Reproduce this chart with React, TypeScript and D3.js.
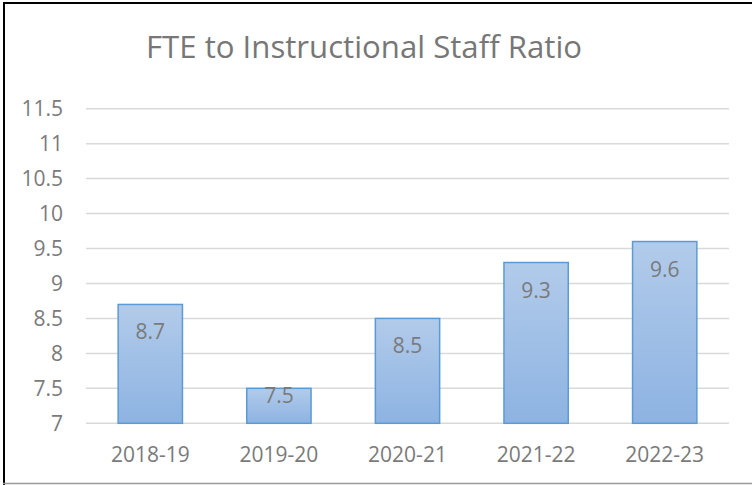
import React from "react";
import * as d3 from "d3";

const categories = ["2018-19", "2019-20", "2020-21", "2021-22", "2022-23"];
const values = [8.7, 7.5, 8.5, 9.3, 9.6];
const yTicks = [7, 7.5, 8, 8.5, 9, 9.5, 10, 10.5, 11, 11.5];
const title = "FTE to Instructional Staff Ratio";

const W = 752;
const H = 485;
const plot = { left: 86, right: 729, top: 108.7, bottom: 423.3 };
const font = "'Open Sans', 'Liberation Sans', sans-serif";
const textColor = "#7a7a7a";

export default function App() {
  const x = d3
    .scaleBand<string>()
    .domain(categories)
    .range([plot.left, plot.right])
    .paddingInner(0.5)
    .paddingOuter(0.25);
  const y = d3.scaleLinear().domain([7, 11.5]).range([plot.bottom, plot.top]);

  return (
    <svg
      width={W}
      height={H}
      style={{ position: "absolute", left: 0, top: 0, background: "#fff" }}
    >
      <defs>
        <linearGradient id="barGrad" x1="0" y1="0" x2="0" y2="1">
          <stop offset="0%" stopColor="#b2cbea" />
          <stop offset="100%" stopColor="#8db3e2" />
        </linearGradient>
      </defs>
      <rect x={0} y={0} width={W} height={H} fill="#fff" />
      {/* border */}
      <line x1={4} x2={4} y1={2} y2={H} stroke="#000" strokeWidth={2} />
      <line x1={3} x2={W} y1={3} y2={3} stroke="#000" strokeWidth={2} />
      <line x1={3} x2={W} y1={483.5} y2={483.5} stroke="#9a9a9a" strokeWidth={1.5} />

      <text
        x={364}
        y={57.5}
        textAnchor="middle"
        fontFamily={font}
        fontSize={31}
        fill="#777"
        textLength={436}
        lengthAdjust="spacingAndGlyphs"
      >
        {title}
      </text>

      {yTicks.map((t) => (
        <g key={t}>
          <line
            x1={plot.left}
            x2={plot.right}
            y1={y(t)}
            y2={y(t)}
            stroke="#d9d9d9"
            strokeWidth={1.5}
          />
          <text
            x={63}
            y={y(t)}
            dy="0.36em"
            textAnchor="end"
            fontFamily={font}
            fontSize={21}
            fill={textColor}
          >
            {t}
          </text>
        </g>
      ))}

      {categories.map((c, i) => {
        const top = y(values[i]);
        const bx = x(c)!;
        const bw = x.bandwidth();
        const labelY = Math.min(top + 35, plot.bottom - 20);
        return (
          <g key={c}>
            <rect
              x={bx}
              y={top}
              width={bw}
              height={plot.bottom - top}
              fill="url(#barGrad)"
              stroke="#5b9bd5"
              strokeWidth={1.5}
            />
            <text
              x={bx + bw / 2}
              y={labelY}
              textAnchor="middle"
              fontFamily={font}
              fontSize={21}
              fill={textColor}
            >
              {values[i]}
            </text>
            <text
              x={bx + bw / 2}
              y={461.5}
              textAnchor="middle"
              fontFamily={font}
              fontSize={21}
              fill={textColor}
            >
              {c}
            </text>
          </g>
        );
      })}
    </svg>
  );
}
